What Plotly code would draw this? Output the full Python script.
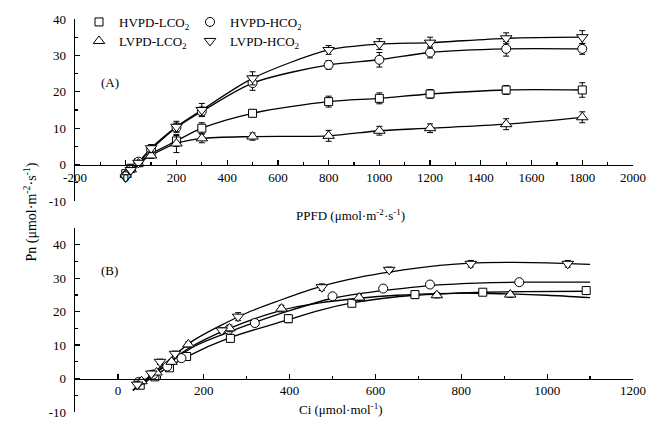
import plotly.graph_objects as go

# ---------------- data: panel A (light response) ----------------
ppfd = [0, 20, 50, 100, 200, 300, 500, 800, 1000, 1200, 1500, 1800]
a_hvpd_lco2 = [-2.5, -1.0, 0.5, 3.0, 6.5, 10.0, 14.1, 17.3, 18.2, 19.4, 20.5, 20.5]
a_hvpd_hco2 = [-3.0, -1.2, 0.8, 4.2, 10.2, 14.6, 22.4, 27.4, 28.8, 30.8, 31.8, 31.8]
a_lvpd_lco2 = [-2.8, -1.3, 0.3, 2.5, 5.8, 7.2, 7.7, 7.9, 9.3, 10.0, 11.1, 13.0]
a_lvpd_hco2 = [-3.5, -1.5, 0.5, 4.5, 10.4, 15.0, 23.7, 31.5, 33.1, 33.5, 34.7, 35.0]
a_err_hvpd_lco2 = [0.5, 0.5, 0.5, 0.8, 1.5, 1.5, 1.0, 1.5, 1.5, 1.2, 1.2, 2.0]
a_err_hvpd_hco2 = [0.5, 0.5, 0.5, 0.8, 1.2, 1.2, 2.0, 1.2, 2.0, 1.5, 2.0, 1.5]
a_err_lvpd_lco2 = [0.5, 0.5, 0.5, 0.8, 2.5, 1.2, 1.0, 1.5, 1.2, 1.2, 1.5, 1.5]
a_err_lvpd_hco2 = [0.5, 0.5, 0.5, 1.0, 1.5, 1.8, 1.8, 1.2, 1.5, 1.5, 1.5, 1.8]

# ---------------- data: panel B (CO2 response) ----------------
b_ci_hvpd_lco2 = [52, 86, 120, 160, 262, 397, 545, 692, 850, 1091]
b_pn_hvpd_lco2 = [-2.0, 0.5, 3.2, 6.6, 12.0, 17.9, 22.5, 25.1, 25.8, 26.3]
b_err_hvpd_lco2 = [0.8, 0.6, 0.6, 0.8, 1.0, 1.2, 0.6, 1.2, 0.6, 1.2]
b_ci_hvpd_hco2 = [48, 82, 115, 148, 258, 319, 500, 618, 727, 935]
b_pn_hvpd_hco2 = [-1.0, 1.2, 3.6, 6.1, 14.6, 16.6, 24.6, 26.9, 28.1, 28.8]
b_err_hvpd_hco2 = [0.8, 0.6, 0.6, 0.8, 1.0, 0.8, 0.8, 0.8, 0.8, 0.8]
b_ci_lvpd_lco2 = [55, 90, 125, 164, 260, 381, 562, 743, 914]
b_pn_lvpd_lco2 = [-0.8, 1.8, 5.0, 10.2, 15.0, 20.9, 24.2, 24.9, 25.1]
b_err_lvpd_lco2 = [0.8, 0.6, 0.6, 0.8, 1.0, 1.0, 0.8, 0.8, 0.8]
b_ci_lvpd_hco2 = [45, 78, 98, 133, 242, 280, 475, 632, 822, 1048]
b_pn_lvpd_hco2 = [-1.8, 1.5, 5.0, 7.4, 14.4, 18.5, 27.3, 32.5, 34.3, 34.3]
b_err_lvpd_hco2 = [1.0, 0.8, 0.8, 0.8, 0.8, 1.2, 1.0, 0.8, 1.0, 1.0]

# fitted curves (panel B)
fit_ci_hvpd_lco2 = [35, 100, 160, 261, 397, 470, 545, 620, 692, 770, 850, 950, 1100]
fit_pn_hvpd_lco2 = [-3.5, 2.0, 6.5, 12.2, 17.6, 20.4, 22.6, 24.0, 24.9, 25.4, 25.8, 26.0, 26.1]
fit_ci_hvpd_hco2 = [35, 100, 176, 250, 319, 400, 500, 564, 618, 727, 835, 935, 1100]
fit_pn_hvpd_hco2 = [-3.5, 2.8, 9.5, 13.5, 16.8, 20.3, 24.0, 25.4, 26.3, 27.8, 28.5, 28.8, 28.8]
fit_ci_lvpd_lco2 = [35, 100, 164, 260, 381, 470, 562, 650, 743, 830, 914, 1000, 1100]
fit_pn_lvpd_lco2 = [-3.5, 3.0, 9.0, 15.0, 20.4, 22.6, 24.0, 24.9, 25.4, 25.5, 25.3, 24.9, 24.2]
fit_ci_lvpd_hco2 = [35, 100, 176, 300, 378, 475, 564, 632, 750, 822, 906, 1000, 1100]
fit_pn_lvpd_hco2 = [-3.5, 3.5, 11.4, 19.6, 23.4, 27.6, 30.3, 31.8, 33.8, 34.5, 34.7, 34.6, 34.1]

# tick labels
a_xticks = [-200, 0, 200, 400, 600, 800, 1000, 1200, 1400, 1600, 1800, 2000]
a_xlabels = ["-200", "0", "200", "400", "600", "800", "1000", "1200", "1400", "1600", "1800", "2000"]
a_yticks = [-10, 0, 10, 20, 30, 40]
a_ylabels = ["-10", "0", "10", "20", "30", "40"]
b_xticks = [0, 200, 400, 600, 800, 1000, 1200]
b_xlabels = ["0", "200", "400", "600", "800", "1000", "1200"]
b_yticks = [-10, 0, 10, 20, 30, 40]
b_ylabels = ["-10", "0", "10", "20", "30", "40"]

names = ["HVPD-LCO<sub>2</sub>", "HVPD-HCO<sub>2</sub>", "LVPD-LCO<sub>2</sub>", "LVPD-HCO<sub>2</sub>"]
symbols = ["square", "circle", "triangle-up", "triangle-down"]
msizes = [8, 9, 10, 10]
legends = ["legend", "legend", "legend2", "legend2"]

W, H = 647, 429
FONT = "Liberation Serif, Times New Roman, serif"

fig = go.Figure()

a_vals = [a_hvpd_lco2, a_hvpd_hco2, a_lvpd_lco2, a_lvpd_hco2]
a_errs = [a_err_hvpd_lco2, a_err_hvpd_hco2, a_err_lvpd_lco2, a_err_lvpd_hco2]
b_ci = [b_ci_hvpd_lco2, b_ci_hvpd_hco2, b_ci_lvpd_lco2, b_ci_lvpd_hco2]
b_pn = [b_pn_hvpd_lco2, b_pn_hvpd_hco2, b_pn_lvpd_lco2, b_pn_lvpd_hco2]
b_er = [b_err_hvpd_lco2, b_err_hvpd_hco2, b_err_lvpd_lco2, b_err_lvpd_hco2]
f_ci = [fit_ci_hvpd_lco2, fit_ci_hvpd_hco2, fit_ci_lvpd_lco2, fit_ci_lvpd_hco2]
f_pn = [fit_pn_hvpd_lco2, fit_pn_hvpd_hco2, fit_pn_lvpd_lco2, fit_pn_lvpd_hco2]

line_style = dict(color="black", width=1.3, shape="spline", smoothing=0.8)

# curves first
for i in range(4):
    fig.add_trace(go.Scatter(x=ppfd, y=a_vals[i], mode="lines", line=line_style,
                             showlegend=False, hoverinfo="skip", xaxis="x", yaxis="y"))
    fig.add_trace(go.Scatter(x=f_ci[i], y=f_pn[i], mode="lines", line=line_style,
                             showlegend=False, hoverinfo="skip", xaxis="x2", yaxis="y2"))

# markers
for i in range(4):
    mk = dict(symbol=symbols[i], size=msizes[i], color="white",
              line=dict(color="black", width=1))
    eb = dict(color="black", thickness=1, width=3)
    fig.add_trace(go.Scatter(x=ppfd, y=a_vals[i], mode="markers", name=names[i],
                             marker=mk, error_y=dict(type="data", array=a_errs[i], **eb),
                             legend=legends[i], xaxis="x", yaxis="y"))
    fig.add_trace(go.Scatter(x=b_ci[i], y=b_pn[i], mode="markers", name=names[i],
                             marker=mk, error_y=dict(type="data", array=b_er[i], **eb),
                             showlegend=False, xaxis="x2", yaxis="y2"))

xd = [75 / W, 633 / W]
ya = [1 - 201 / H, 1 - 19 / H]
yb = [1 - 412 / H, 1 - 228 / H]
posA = ya[0] + (10 / 50) * (ya[1] - ya[0])
posB = yb[0] + (10 / 55) * (yb[1] - yb[0])

axfont = dict(family=FONT, size=13, color="black")
common = dict(showline=True, linecolor="black", linewidth=1.3, showgrid=False,
              zeroline=False, ticks="inside", ticklen=5, tickwidth=1.2, tickcolor="black",
              tickfont=axfont, tickmode="array", automargin=False)

fig.update_layout(
    template="none",
    width=W, height=H, margin=dict(l=0, r=0, t=0, b=0, autoexpand=False),
    paper_bgcolor="white", plot_bgcolor="white",
    hovermode=False,
    font=dict(family=FONT, size=13, color="black"),
    xaxis=dict(domain=xd, range=[-200, 2000], anchor="free", position=posA,
               tickvals=a_xticks, ticktext=a_xlabels,
               minor=dict(ticks="inside", dtick=100, tick0=0, ticklen=3, tickcolor="black"),
               **common),
    yaxis=dict(domain=ya, range=[-10, 40], anchor="x", tickvals=a_yticks, ticktext=a_ylabels,
               ticklabelstandoff=5,
               minor=dict(ticks="inside", dtick=5, tick0=0, ticklen=3, tickcolor="black"),
               **common),
    xaxis2=dict(domain=xd, range=[-100, 1200], anchor="free", position=posB,
                tickvals=b_xticks, ticktext=b_xlabels,
                minor=dict(ticks="inside", dtick=100, tick0=0, ticklen=3, tickcolor="black"),
                **common),
    yaxis2=dict(domain=yb, range=[-10, 45], anchor="x2", tickvals=b_yticks, ticktext=b_ylabels,
                ticklabelstandoff=5,
                minor=dict(ticks="inside", dtick=5, tick0=0, ticklen=3, tickcolor="black"),
                **common),
    legend=dict(orientation="h", x=79 / W, y=1 - 7 / H, xanchor="left", yanchor="top",
                entrywidth=66, bgcolor="rgba(0,0,0,0)", font=dict(family=FONT, size=13),
                tracegroupgap=0, itemwidth=30),
    legend2=dict(orientation="h", x=79 / W, y=1 - 26 / H, xanchor="left", yanchor="top",
                 entrywidth=66, bgcolor="rgba(0,0,0,0)", font=dict(family=FONT, size=13),
                 tracegroupgap=0, itemwidth=30),
    annotations=[
        dict(text="(A)", x=99 / W, y=1 - 73 / H, xref="paper", yref="paper",
             showarrow=False, font=dict(family=FONT, size=13)),
        dict(text="(B)", x=99 / W, y=1 - 270 / H, xref="paper", yref="paper",
             showarrow=False, font=dict(family=FONT, size=13)),
        dict(text="PPFD (μmol·m<sup>-2</sup>·s<sup>-1</sup>)", x=350 / W, y=1 - 215 / H,
             xref="paper", yref="paper", showarrow=False, font=dict(family=FONT, size=13)),
        dict(text="Ci (μmol·mol<sup>-1</sup>)", x=341 / W, y=1 - 419 / H,
             xref="paper", yref="paper", showarrow=False, font=dict(family=FONT, size=13)),
        dict(text="Pn (μmol·m<sup>-2</sup>·s<sup>-1</sup>)", x=20 / W, y=1 - 212 / H,
             xref="paper", yref="paper", showarrow=False, textangle=-90,
             font=dict(family=FONT, size=14)),
    ],
)

fig.write_html("out.html", config={"displayModeBar": False, "staticPlot": True},
               post_script="document.body.style.margin='0px';document.body.style.overflow='hidden';")
